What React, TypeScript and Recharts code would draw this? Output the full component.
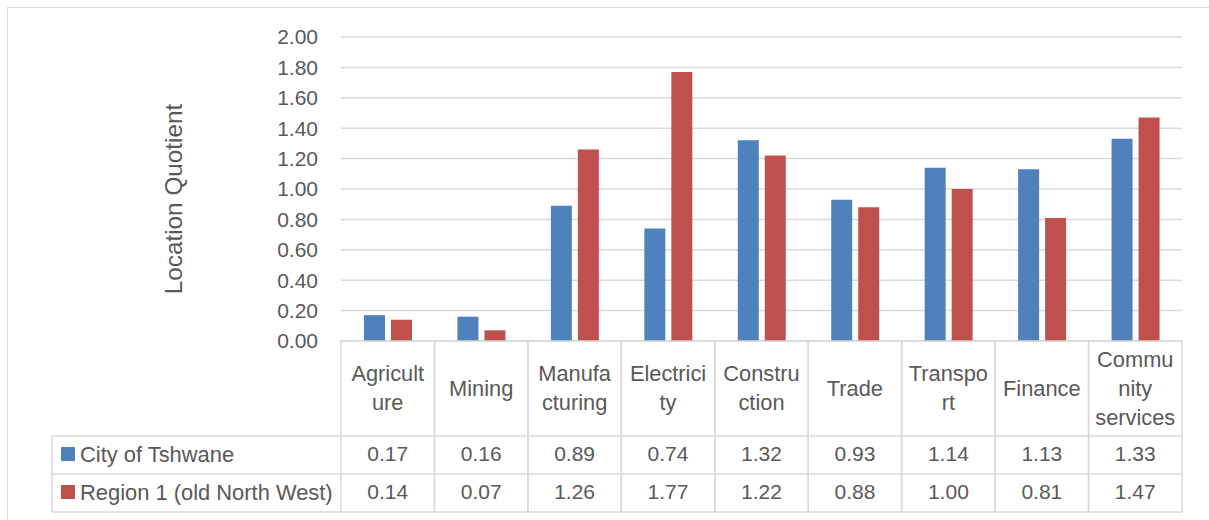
import { BarChart, Bar, XAxis, YAxis, CartesianGrid } from 'recharts'

const categories = [
  'Agriculture',
  'Mining',
  'Manufacturing',
  'Electricity',
  'Construction',
  'Trade',
  'Transport',
  'Finance',
  'Community services',
]

// header cell text as Excel wraps it in the data table
const headerLines = [
  ['Agricult', 'ure'],
  ['Mining'],
  ['Manufa', 'cturing'],
  ['Electrici', 'ty'],
  ['Constru', 'ction'],
  ['Trade'],
  ['Transpo', 'rt'],
  ['Finance'],
  ['Commu', 'nity', 'services'],
]

const tshwane = [0.17, 0.16, 0.89, 0.74, 1.32, 0.93, 1.14, 1.13, 1.33]
const region1 = [0.14, 0.07, 1.26, 1.77, 1.22, 0.88, 1.0, 0.81, 1.47]

const seriesNames = ['City of Tshwane', 'Region 1 (old North West)']
const seriesColors = ['#4F81BD', '#C0504D']

const yTicks = [0, 0.2, 0.4, 0.6, 0.8, 1.0, 1.2, 1.4, 1.6, 1.8, 2.0]

const data = categories.map((name, i) => ({
  name,
  tshwane: tshwane[i],
  region1: region1[i],
}))

const FONT = '"Liberation Sans", Arial, sans-serif'
const TEXT = '#595959'
const LINE = '#D9D9D9'

const W = 1209
const H = 520
const PLOT_LEFT = 341
const PLOT_RIGHT = 27
const TABLE_H = 179

function TableTick(props: any) {
  const { x, y, payload } = props
  const i = payload.index
  const half = payload.offset || (W - PLOT_LEFT - PLOT_RIGHT) / categories.length / 2
  const lines = headerLines[i]
  const headerMid = y + 47
  const row1 = y + 113
  const row2 = y + 151
  return (
    <g fontFamily={FONT} fontSize={21} fill={TEXT}>
      <line x1={x - half} x2={x - half} y1={y} y2={y + 171} stroke={LINE} strokeWidth={1.5} />
      <line x1={x + half} x2={x + half} y1={y} y2={y + 171} stroke={LINE} strokeWidth={1.5} />
      {[95, 133, 171].map((d) => (
        <line key={d} x1={x - half} x2={x + half} y1={y + d} y2={y + d} stroke={LINE} strokeWidth={1.5} />
      ))}
      {lines.map((t, k) => (
        <text
          key={k}
          x={x}
          y={headerMid + (k - (lines.length - 1) / 2) * 29}
          dy="0.35em"
          textAnchor="middle"
          fontSize={21.8}
        >
          {t}
        </text>
      ))}
      <text x={x} y={row1} dy="0.35em" textAnchor="middle">
        {tshwane[i].toFixed(2)}
      </text>
      <text x={x} y={row2} dy="0.35em" textAnchor="middle">
        {region1[i].toFixed(2)}
      </text>
      {i === 0 && (
        <g>
          <line x1={52} x2={52} y1={y + 95} y2={y + 171} stroke={LINE} strokeWidth={1.5} />
          {[95, 133, 171].map((d) => (
            <line key={d} x1={52} x2={x - half} y1={y + d} y2={y + d} stroke={LINE} strokeWidth={1.5} />
          ))}
          {[row1, row2].map((ry, k) => (
            <g key={k}>
              <rect x={61} y={ry - 7} width={14} height={14} fill={seriesColors[k]} />
              <text x={80} y={ry} dy="0.35em" textAnchor="start" fontSize={21.9}>
                {seriesNames[k]}
              </text>
            </g>
          ))}
        </g>
      )}
    </g>
  )
}

export default function App() {
  return (
    <div style={{ position: 'absolute', left: 0, top: 0, width: W, height: H, background: '#fff' }}>
      <div
        style={{
          position: 'absolute',
          left: 7,
          top: 7,
          width: W,
          height: H,
          borderLeft: `1.5px solid ${LINE}`,
          borderTop: `1.5px solid ${LINE}`,
        }}
      />
      <div style={{ position: 'absolute', left: 0, top: 0 }}>
        <BarChart
          width={W}
          height={H}
          data={data}
          margin={{ top: 37, right: PLOT_RIGHT, bottom: 0, left: 0 }}
          barCategoryGap={23}
          barGap={6}
        >
          <CartesianGrid vertical={false} stroke={LINE} strokeWidth={1.5} />
          <XAxis
            dataKey="name"
            interval={0}
            height={TABLE_H}
            axisLine={{ stroke: LINE, strokeWidth: 1.5 }}
            tickLine={false}
            tickSize={0}
            tickMargin={0}
            tick={<TableTick />}
          />
          <YAxis
            width={PLOT_LEFT}
            domain={[0, 2]}
            ticks={yTicks}
            interval={0}
            axisLine={false}
            tickLine={false}
            tickSize={0}
            tickMargin={23}
            tickFormatter={(v: number) => v.toFixed(2)}
            tick={{ fill: TEXT, fontSize: 21, fontFamily: FONT }}
            label={{
              content: () => (
                <text
                  x={173}
                  y={199}
                  transform="rotate(-90 173 199)"
                  textAnchor="middle"
                  dominantBaseline="central"
                  fontFamily={FONT}
                  fontSize={24.3}
                  fill={TEXT}
                >
                  Location Quotient
                </text>
              ),
            }}
          />
          <Bar dataKey="tshwane" name={seriesNames[0]} fill={seriesColors[0]} isAnimationActive={false} />
          <Bar dataKey="region1" name={seriesNames[1]} fill={seriesColors[1]} isAnimationActive={false} />
        </BarChart>
      </div>
    </div>
  )
}
